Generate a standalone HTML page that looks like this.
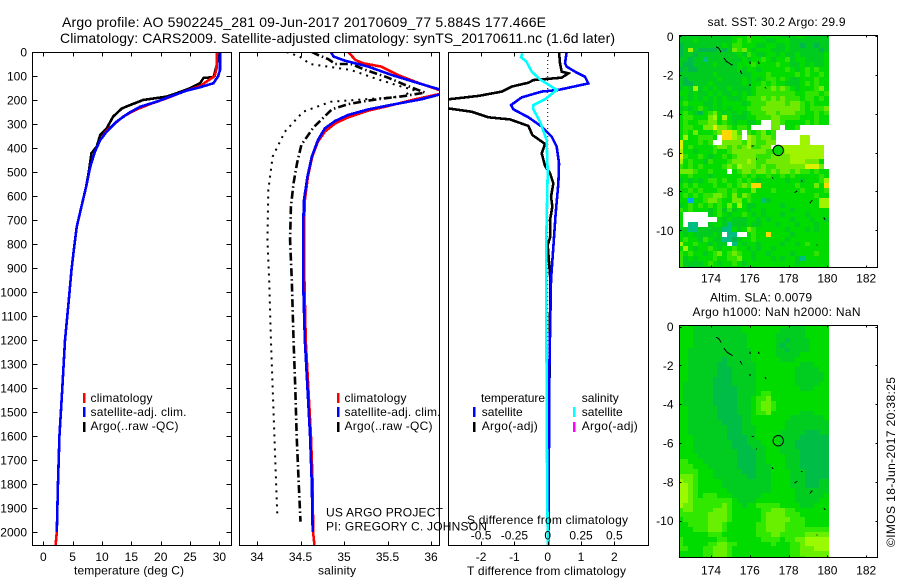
<!DOCTYPE html>
<html lang="en">
<head>
<meta charset="utf-8">
<title>Argo profile</title>
<style>
html,body{margin:0;padding:0;background:#fff;}
svg{display:block;font-family:"Liberation Sans",Arial,sans-serif;font-size:12px;fill:#000;}
.t14{font-size:14px;}
</style>
</head>
<body>
<svg id="chart" xmlns="http://www.w3.org/2000/svg" width="900" height="580" viewBox="0 0 900 580">
<defs>
<clipPath id="clip-temp"><rect x="32.5" y="52" width="199" height="493"/></clipPath>
<clipPath id="clip-sal"><rect x="239.5" y="52" width="200" height="493"/></clipPath>
<clipPath id="clip-diff"><rect x="448.5" y="52" width="199.5" height="493"/></clipPath>
<clipPath id="clip-sst"><rect x="679.5" y="35" width="198" height="232"/></clipPath>
<clipPath id="clip-sla"><rect x="679.5" y="325" width="198" height="232"/></clipPath>
</defs>
<rect x="0" y="0" width="900" height="580" fill="#fff"/>
<text class="t14" x="62" y="27" textLength="484">Argo profile: AO 5902245_281 09-Jun-2017 20170609_77 5.884S 177.466E</text>
<text class="t14" x="60" y="43" textLength="555">Climatology: CARS2009. Satellite-adjusted climatology: synTS_20170611.nc (1.6d later)</text>
<g id="marks"></g>
<g id="axes"></g>

<text x="74" y="574.5" textLength="110">temperature (deg C)</text>
<text x="318" y="574.5" textLength="38">salinity</text>
<text x="467" y="575" textLength="159">T difference from climatology</text>
<text x="467" y="524" textLength="161">S difference from climatology</text>

<g>
<rect x="83" y="393" width="2.5" height="10" fill="#f00"/><text x="90.5" y="402" textLength="62">climatology</text>
<rect x="83" y="407" width="2.5" height="10" fill="#00f"/><text x="90.5" y="416" textLength="96">satellite-adj. clim.</text>
<rect x="83" y="422" width="2.5" height="10" fill="#000"/><text x="90.5" y="430" textLength="88">Argo(..raw -QC)</text>
</g>
<g>
<rect x="337" y="393" width="2.5" height="10" fill="#f00"/><text x="344.5" y="402" textLength="62">climatology</text>
<rect x="337" y="407" width="2.5" height="10" fill="#00f"/><text x="344.5" y="416" textLength="96">satellite-adj. clim.</text>
<rect x="337" y="422" width="2.5" height="10" fill="#000"/><text x="344.5" y="430" textLength="88">Argo(..raw -QC)</text>
</g>
<g>
<text x="481" y="402" textLength="64">temperature</text>
<rect x="473" y="407" width="2.5" height="10" fill="#00f"/><text x="481.7" y="416" textLength="41">satellite</text>
<rect x="473" y="422" width="2.5" height="10" fill="#000"/><text x="481.7" y="430" textLength="56">Argo(-adj)</text>
<text x="581.7" y="402" textLength="37">salinity</text>
<rect x="573" y="407" width="2.5" height="10" fill="#0ff"/><text x="581.7" y="416" textLength="41">satellite</text>
<rect x="573" y="422" width="2.5" height="10" fill="#f0f"/><text x="581.7" y="430" textLength="56">Argo(-adj)</text>
</g>
<text x="326" y="516.5" textLength="117">US ARGO PROJECT</text>
<text x="326" y="530.5" textLength="161">PI: GREGORY C. JOHNSON</text>

<text x="707.5" y="26" textLength="138">sat. SST: 30.2 Argo: 29.9</text>
<text x="710" y="301.5" textLength="102">Altim. SLA: 0.0079</text>
<text x="692.5" y="316" textLength="168">Argo h1000: NaN h2000: NaN</text>
<text transform="translate(895,547) rotate(-90)" x="0" y="0" textLength="170">©IMOS 18-Jun-2017 20:38:25</text>
</svg>
<script>
// ---------- profile data ----------
const tempClimDepth = [0,70,100,142,165,193,217,239,269,304,328,367,415,478,561,644,728,825,908,1019,1200,1400,1600,1800,2000,2054];
const tempClimValue = [29.6,29.5,29.2,26.7,23.9,21,18.2,15.9,13.6,11.9,10.8,9.7,8.8,8,7.3,6.5,5.7,5.2,4.8,4.4,3.7,3.24,2.75,2.5,2.3,2.1];
const tempSatDepth = [0,75,100,130,147,161,186,207,228,255,290,332,367,415,478,561,644,728,825,908,1019,1200,1400,1600,1800,2000,2000];
const tempSatValue = [30.1,30.1,29.8,29,26.7,24.4,21.6,19.3,16.5,14.5,12.5,10.8,9.7,8.8,8,7.3,6.5,5.7,5.2,4.8,4.4,3.7,3.24,2.75,2.5,2.3,2.3];
const tempArgoDepth = [0,60,105,108,130,151,172,186,200,221,235,269,318,346,394,422,492,561,644,728,825,908,1019,1200,1400,1600,1660];
const tempArgoValue = [29.8,29.5,29,27.3,26.7,25,22.7,21,17,14.8,13.4,11.9,10.8,9.7,9.1,8.2,7.8,7.3,6.5,5.7,5.2,4.8,4.4,3.7,3.24,2.75,2.7];

const salClimDepth = [0,33,47,61,96,128,158,165,175,197,225,244,272,297,332,374,436,519,617,728,950,1200,1400,1600,1800,2000,2054];
const salClimValue = [35.05,35.13,35.22,35.43,35.62,35.85,36.09,36.2,36.1,35.82,35.51,35.28,35.05,34.9,34.78,34.7,34.635,34.585,34.55,34.54,34.545,34.56,34.59,34.62,34.64,34.645,34.66];
const salSatDepth = [0,19,36,61,96,126,154,165,179,197,217,239,262,287,318,367,436,519,617,728,950,1200,1400,1600,1800,2000];
const salSatValue = [34.85,34.88,35.01,35.28,35.55,35.82,36.08,36.2,36.08,35.89,35.59,35.28,35.05,34.9,34.78,34.7,34.63,34.58,34.54,34.53,34.53,34.55,34.58,34.61,34.63,34.64];
const salAdjDepth = [0,12,30,50,50,75,106,140,169,183,193,203,217,239,314,387,464,547,644,783,950,1200,1400,1600,1800,1957];
const salAdjValue = [34.63,34.7,34.82,34.9,35.08,35.25,35.5,35.72,35.93,35.7,35.47,35.27,35.05,34.86,34.65,34.51,34.46,34.42,34.39,34.38,34.4,34.42,34.44,34.456,34.48,34.5];
const salRawDepth = [0,19,50,75,114,144,158,186,207,249,332,436,575,783,950,1200,1400,1600,1800,1940];
const salRawValue = [34.34,34.49,34.61,35.08,35.39,35.66,35.8,35.67,34.85,34.53,34.32,34.18,34.13,34.12,34.14,34.16,34.18,34.2,34.22,34.235];

const dTempSatDepth = [0,47,61,86,103,131,158,165,189,221,239,272,311,353,394,464,547,672,811,947,1400,1600,2054];
const dTempSatValue = [0.57,0.52,0.57,0.87,1.12,1.22,0.32,-0.18,-0.78,-1.1,-1.03,-0.58,-0.18,0.12,0.27,0.34,0.32,0.24,0.17,0.1,0.04,0.04,0.02];
const dTempArgoDepth = [0,47,82,89,107,117,128,144,165,183,197,215,235,249,272,281,308,346,383,422,475,505,547,603,644,700,769,804,894,947,1400,1600];
const dTempArgoValue = [0.34,0.37,0.42,0.62,0.42,-0.43,-0.58,-1.08,-1.38,-2.08,-2.98,-3.6,-2.98,-2.28,-1.78,-1.13,-0.58,-0.46,-0.08,-0.18,-0.08,0.07,0.17,0.1,0.14,0.07,0.08,0,0.05,0.08,0.05,0];
const dSalSatDepth = [5,22,40,82,114,158,197,221,239,290,367,505,811,947,1400,1500,1700,1900,2054];
const dSalSatValue = [-0.19,-0.2,-0.16,-0.12,-0.058,0.068,-0.02,-0.108,-0.108,-0.058,-0.008,0,-0.012,-0.012,-0.0075,-0.0075,-0.005,-0.002,0];

// ---------- tick labels ----------
const depthTicks = [0,100,200,300,400,500,600,700,800,900,1000,1100,1200,1300,1400,1500,1600,1700,1800,1900,2000];
const tempTicks = [0,5,10,15,20,25,30];
const salTicks = ['34','34.5','35','35.5','36'];
const dTempTicks = ['-2','-1','0','1','2'];
const dSalTicks = ['-0.5','-0.25','0','0.25','0.5'];
const lonTicks = [174,176,178,180,182];
const latTicks = [0,-2,-4,-6,-8,-10];

// ---------- map data ----------
const sstPalette = {a:'#00b94a',b:'#00cc20',c:'#00dc00',d:'#30e400',e:'#70ea00',f:'#a0f400',g:'#dcf000',h:'#ffd700',t:'#00be82',u:'#00a5f0'};
const slaPalette = {a:'#00bd48',b:'#00cd20',c:'#00dc00',d:'#30e800',e:'#68f000',f:'#9cfa00'};
const sstRows = [
"bbbbbbbbbb bcccdccbcc cbbbccbbbb b",
"bbbcbbbbbb bcdcdcccbb cccbbbbbbb b",
"abbbbbbbbc bddcccbbcc bbcbbabbab b",
"abfbaaaaba bedecbcccb bbcbbbbbba b",
"abbabbbbbb bbcbdcbbcc bcbbcbbbbb c",
"bbabbtbbbb bbbcbccdcb ccdbccbbbb c",
"baabbbbcbb bbcccdcccc dccbbcbcbb c",
"abaabbbbbb bbcbccbccc ccdcbcdcdc c",
"bbbbbbbcbb bbbbbcccdc ccccdcdccd c",
"babbbbbbcb bbbcbcbcdd cdcbbcccdc c",
"baabbbcbbb bbbcbccdcd ccbbbcdcdc c",
"bcbfbcbcbb cbbbbcddde dedcbcccde c",
"ccbcbbcbcb bcbcbcdddd ddddccdddc d",
"bcbcbcbcbc bbbcdddede dedddcddcd c",
"cdcccbbcbc cccbcdddee eedeedcdcc c",
"bcbcdcbcbc bcccdddeee eeeeedcddd e",
"cdcbacdecb cbcbcdddee deeeddccdc d",
"cddcccefcf cbbbccddde eddddcccdc c",
"cdccddeecd cbccbbc..e edccccdcdc c",
"cddcceegee dcddc....e e.ccd..... .",
"cdcecccdeh hfd.dcdecd .......... .",
"cfccdddc.h hfe.fedeed .....ff... .",
"gcccdcd..e eeedfeddee .....ff... .",
"gcdccccdee dedefddee. efffffffff .",
"fccbcccdcc deeeeeeedd eeffffffff .",
"gdccdcbccd cdeeeeddde eeefffffff .",
"fcdccbdccc deeefeddee eeefffeeec .",
"dcdcdccccd edfeeededd eeeeeeggge .",
"eeedccdccc .cdeedeede deededdcdc c",
"ccdcccbccc cccdcdccdc cdcdcccccd c",
"bcbcbcddcd ccdcdcbccc ccbccbcccd f",
"cdcdcccdcc dcdedhhccc ccccdcccec h",
"ccdcdcccdd cdcccecccd cccccdcccc d",
"cdcdcddeed cecedccccc ccccccccdc c",
"ccuccdeedc ceecdcctbc cccccccccf f",
"bcdcdcdcdc ecfcbbcccc cbcccccccf f",
"dcdcccbcdb dbccbccbcc cccbcccccc c",
"c.....bcdc bccdcbcbcc cbccccbccc c",
"c.......cb cbbbccbcbc cccbcccbcc b",
"c.tt..bccb tbbbcbbccc bcccbcccbc c",
"bbttbbbbbt tcbcedcccc ccbcccbcbc c",
"cbcbbbbcb. tt..cdcchc cccbcccccc c",
"cdccbdcbbt tabccdcccc ccbccccccc c",
"fccdccbcbb .tcbccbccc cbccbcdccc c",
"cfcbccdcbc cdccbcbccb cccccccccc c",
"dcdccbcdec dedccbccbc cccbccccdc c",
"dbcbcccdcc ddeccbcccb cbccbtcccc c",
"dbbbbcdcbc cdcbcccccc ccccbccccc c",
"dbabbbcccc bcccbbcccc cbcccccccc c"
];
const slaRows = [
"cccbbbbbbb bbbccccccc ccbbbbcccc c",
"cccbbbbbbb bbbccccccc cbbbbbcccc c",
"cccbbbbbbb bbbbcccccc bbbbbbcccc c",
"cccbbbbbbb bbbbcccccc bbabbbbccc c",
"cccbbbbbbb bbbbcccccc babbbbbccc c",
"ccbbbbbbbb bbbbbccccc bbabbbbccc c",
"ccbbbbbbbb bbbbbccccc bbbbbccccc c",
"ccbbbbbbba bbbbbccccc cbbbcccccc c",
"ccbbbbbbaa bbbbbbcccc cccccbbbcc c",
"ccbbbbbbaa abbbbbcccc ccccbbbbbc c",
"ccbbbbbbaa abbbbbcccc ccccbbbbbb c",
"ccbbbbbaaa abbbbbcccc ccccbbbbbb c",
"cbbbbbbaaa abbbbbcccc ccccbbbbbc c",
"cbbbbbbaaa aabbbbcccc cccccbbbcc c",
"cbbbbbbaaa aabbbbcddc cccccccccc c",
"cbbbbbbaaa aabbbcddec cccccccccc c",
"cbbbbbbaaa aabbbcdeed cccccccccc c",
"ccbbbbbbaa aabbbcdeed cccccccccc c",
"ccbbbbbbaa aabbbcddec cccccbbbcc c",
"ccbbbbbbaa aaabbccccc cccbbbbbbb c",
"ccbbbbbbba aaabbccccc ccbbbbbbbb b",
"ccbbbbbbbb aaabbbcccc ccbbbbbbbb b",
"ccbbbbbbbb aaabbbcccc cbbbbbaaab b",
"cccbbbbbbb aaaabbcccc cbbbbaaaaa a",
"cccbbbbbbb baaabbbccc cbbbaaaaaa a",
"cccbbbbbbb baaaabbbcc cbbbaaaaaa a",
"cccbbbbbbb bbaaaabbcc cbbbbaaaaa a",
"ccccbbbbbb bbaaaabbcc ccbbbaaaaa a",
"ddcccbbbbb bbaaaabbcc ccbbbaaaaa a",
"dddcccbbbb bbaaaabbbc ccbbbaaaaa a",
"ddddcccbbb bbbaaabbbc cccbbbaaaa a",
"eeedcccbbb bbbbaabbbc cccbbbaaaa a",
"feedcccccb bbbbbbbbbc cccbbbaaab b",
"ffedcccccb bbbbbbbbbc cccbbbaaab b",
"ffedcccccc bbbbbbbbbc ccccbbbbbb b",
"ffedcdddcc cbbbbbbccc ccccbbbbbb c",
"ffeddddddd dcbbbbcccc ccccbbbbbc c",
"feedddddde dccbccdddd dccccbbbcc c",
"deeddddeee dccccccdde eeddcccccc c",
"ddddddeeee dccccccdee eedddccccc c",
"cdddddeeee dccccccdee eeedddcccc c",
"ccddddeeed ccccccddee eeddddcccc c",
"cccdddeeed ccccccddee eedddddddd d",
"ccccccdddc ccccccddde edddddeeee e",
"dcccccccdd cccccccddd dcddeeffff f",
"dcccccddee ddcccccccd cccddeffff f",
"ddcccddeee dccccccccc cccddeeeff f",
"cccccddeee dccccccccc cccddeeeee e",
"cccccddeee dccccccccc cccdddeeee e"
];
const islandLons = [[174.26,174.4,174.52],[174.67,174.8,174.95,175.12],[175.5,175.6],[176,176.03],[176.45,176.48],[175.97,176.05],[176.78,176.85],[176.1,176.2],[176.32,176.38],[177.15,177.19],[178.64,178.72],[178.3,178.45],[179.1,179.22],[179.82,179.88],[179.45,179.5]];
const islandLats = [[-0.55,-0.62,-0.82],[-1.12,-1.3,-1.4,-1.5],[-1.77,-1.95],[-1.3,-1.42],[-1.3,-1.42],[-2.5,-2.5],[-2.62,-2.7],[-5.65,-5.67],[-6.32,-6.32],[-7.26,-7.34],[-7.47,-7.47],[-8.07,-7.97],[-8.6,-8.45],[-9.35,-9.45],[-10.75,-10.75]];
const floatLon = 177.466;
const floatLat = -5.884;
const gridLonStart = 172.33;
const gridLatStart = 0.168;
const gridStep = 0.25;

// ---------- axis functions ----------
const NS = 'http://www.w3.org/2000/svg';
const marks = document.getElementById('marks');
const axes = document.getElementById('axes');
const depthY = d => 52 + d * 0.24;
const tempX = t => 43.3 + t * 5.87;
const salX = s => 257 + (s - 34) * 87;
const dTempX = t => 547.7 + t * 33.3;
const dSalX = s => 547.7 + s * 133.2;
const lonX = l => 711 + (l - 174) * 19.4;
const sstY = l => 36.25 - l * 19.4;
const slaY = l => 326.6 - l * 19.4;

function make(tag, parent) {
  const el = document.createElementNS(NS, tag);
  parent.appendChild(el);
  return el;
}
function drawProfile(depths, values, xFn, color, width, dash, clip, name) {
  const el = make('polyline', marks);
  
  
  el.setAttribute('points', depths.map((d, i) => xFn(values[i]).toFixed(2) + ',' + depthY(d).toFixed(2)).join(' '));
  el.setAttribute('fill', 'none');
  el.setAttribute('stroke', color);
  el.setAttribute('stroke-width', width);
  el.setAttribute('clip-path', 'url(#' + clip + ')');
  if (dash) el.setAttribute('stroke-dasharray', dash);
  else el.setAttribute('shape-rendering', 'crispEdges');
}
function drawFrame(x, y, w, h, name) {
  const el = make('rect', axes);
  
  
  el.setAttribute('x', x);
  el.setAttribute('y', y);
  el.setAttribute('width', w);
  el.setAttribute('height', h);
  el.setAttribute('fill', 'none');
  el.setAttribute('stroke', '#000');
  el.setAttribute('stroke-width', '1');
  el.setAttribute('shape-rendering', 'crispEdges');
}
function drawTick(x1, y1, x2, y2) {
  const el = make('line', axes);
  
  
  el.setAttribute('x1', x1);
  el.setAttribute('y1', y1);
  el.setAttribute('x2', x2);
  el.setAttribute('y2', y2);
  el.setAttribute('stroke', '#000');
  el.setAttribute('shape-rendering', 'crispEdges');
}
function drawLabel(x, y, text, anchor) {
  const el = make('text', axes);
  
  
  el.setAttribute('x', x);
  el.setAttribute('y', y);
  el.setAttribute('text-anchor', anchor);
  el.textContent = text;
}
function drawGrid(rows, palette, yFn, clip, name) {
  const g = make('g', marks);
  
  
  g.setAttribute('clip-path', 'url(#' + clip + ')');
  rows.forEach((raw, r) => {
    const row = raw.replace(/ /g, '');
    const top = gridLatStart - r * gridStep;
    for (let c = 0; c < row.length; c++) {
      const color = palette[row[c]];
      if (!color) continue;
      const left = gridLonStart + c * gridStep;
      const cell = make('rect', g);
      
      
      const x0 = Math.round(lonX(left)), x1 = Math.round(lonX(left + gridStep));
      const y0 = Math.round(yFn(top)), y1 = Math.round(yFn(top - gridStep));
      cell.setAttribute('x', x0);
      cell.setAttribute('y', y0);
      cell.setAttribute('width', x1 - x0);
      cell.setAttribute('height', y1 - y0);
      cell.setAttribute('fill', color);
    }
  });
}
function drawIslands(yFn, name) {
  islandLons.forEach((lons, i) => {
    const el = make('polyline', marks);
    
    
    el.setAttribute('points', lons.map((l, j) => lonX(l).toFixed(1) + ',' + yFn(islandLats[i][j]).toFixed(1)).join(' '));
    el.setAttribute('fill', 'none');
    el.setAttribute('stroke', '#000');
    el.setAttribute('stroke-width', '1');
    el.setAttribute('shape-rendering', 'crispEdges');
  });
}
function drawFloat(yFn, fill, name) {
  const el = make('circle', marks);
  
  
  el.setAttribute('cx', lonX(floatLon));
  el.setAttribute('cy', yFn(floatLat));
  el.setAttribute('r', '5.2');
  el.setAttribute('fill', fill);
  el.setAttribute('stroke', '#000');
  el.setAttribute('stroke-width', '1');
}

// ---------- temperature panel ----------
drawProfile(tempArgoDepth, tempArgoValue, tempX, '#000', 2.6, null, 'clip-temp', 'temperature-argo-line');
drawProfile(tempClimDepth, tempClimValue, tempX, '#f00', 2.6, null, 'clip-temp', 'temperature-climatology-line');
drawProfile(tempSatDepth, tempSatValue, tempX, '#00f', 2.6, null, 'clip-temp', 'temperature-satellite-line');

// ---------- salinity panel ----------
drawProfile(salRawDepth, salRawValue, salX, '#000', 2, '2 5', 'clip-sal', 'salinity-argo-raw-line');
drawProfile(salAdjDepth, salAdjValue, salX, '#000', 2.6, '8 3 1.5 3', 'clip-sal', 'salinity-argo-qc-line');
drawProfile(salClimDepth, salClimValue, salX, '#f00', 2.6, null, 'clip-sal', 'salinity-climatology-line');
drawProfile(salSatDepth, salSatValue, salX, '#00f', 2.6, null, 'clip-sal', 'salinity-satellite-line');

// ---------- difference panel ----------
drawProfile([0, 2054], [0, 0], dTempX, '#000', 1, '1 3', 'clip-diff', 'zero-difference-line');
drawProfile(dTempArgoDepth, dTempArgoValue, dTempX, '#000', 2.6, null, 'clip-diff', 'temperature-difference-argo-line');
drawProfile(dTempSatDepth, dTempSatValue, dTempX, '#00f', 2.6, null, 'clip-diff', 'temperature-difference-satellite-line');
drawProfile(dSalSatDepth, dSalSatValue, dSalX, '#0ff', 2.6, null, 'clip-diff', 'salinity-difference-satellite-line');

// ---------- maps ----------
drawGrid(sstRows, sstPalette, sstY, 'clip-sst', 'sst-heatmap');
drawIslands(sstY, 'sst-map-island');
drawFloat(sstY, '#00dc00', 'sst-float-marker');
drawGrid(slaRows, slaPalette, slaY, 'clip-sla', 'sla-heatmap');
drawIslands(slaY, 'sla-map-island');
drawFloat(slaY, 'none', 'sla-float-marker');

// ---------- frames and ticks ----------
drawFrame(32.5, 52.5, 199, 493, 'temperature-panel-frame');
drawFrame(239.5, 52.5, 200, 493, 'salinity-panel-frame');
drawFrame(448.5, 52.5, 200, 493, 'difference-panel-frame');
drawFrame(679.5, 35.5, 198, 232, 'sst-map-frame');
drawFrame(679.5, 325.5, 198, 232, 'sla-map-frame');

depthTicks.forEach(d => {
  const y = Math.round(depthY(d)) + 0.5;
  drawTick(32.5, y, 37.5, y);
  drawTick(226.5, y, 231.5, y);
  drawLabel(27, depthY(d) + 4.5, String(d), 'end');
});
tempTicks.forEach(t => {
  const x = Math.round(tempX(t)) + 0.5;
  drawTick(x, 52.5, x, 56.5);
  drawTick(x, 541.5, x, 545.5);
  drawLabel(tempX(t), 561, String(t), 'middle');
});
salTicks.forEach(s => {
  const x = Math.round(salX(parseFloat(s))) + 0.5;
  drawTick(x, 52.5, x, 56.5);
  drawTick(x, 541.5, x, 545.5);
  drawLabel(salX(parseFloat(s)), 561, s, 'middle');
});
dTempTicks.forEach(t => {
  const x = Math.round(dTempX(parseFloat(t))) + 0.5;
  drawTick(x, 541.5, x, 545.5);
  drawLabel(dTempX(parseFloat(t)), 561, t, 'middle');
});
dSalTicks.forEach(s => {
  const x = Math.round(dSalX(parseFloat(s))) + 0.5;
  drawTick(x, 52.5, x, 56.5);
  drawLabel(dSalX(parseFloat(s)), 539.5, s, 'middle');
});
[[sstY, 35.5, 267.5, 282.5], [slaY, 325.5, 557.5, 574.5]].forEach(cfg => {
  const yFn = cfg[0], top = cfg[1], bottom = cfg[2], base = cfg[3];
  lonTicks.forEach(l => {
    const x = Math.round(lonX(l)) + 0.5;
    drawTick(x, top, x, top + 2);
    drawTick(x, bottom - 2, x, bottom);
    drawLabel(lonX(l), base, String(l), 'middle');
  });
  latTicks.forEach(l => {
    const y = Math.round(yFn(l)) + 0.5;
    drawTick(679.5, y, 681.5, y);
    drawTick(875.5, y, 877.5, y);
    drawLabel(673.5, yFn(l) + 4.5, String(l), 'end');
  });
});
</script>
</body>
</html>
